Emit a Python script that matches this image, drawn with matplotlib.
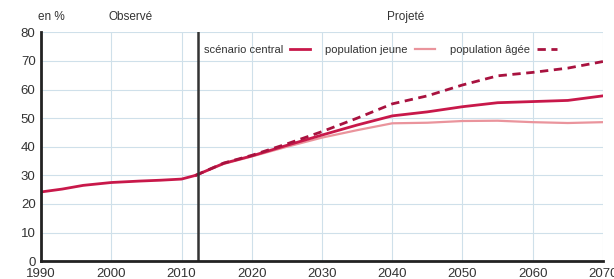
import matplotlib.pyplot as plt
from matplotlib.ticker import MultipleLocator

plt.rcParams['font.family'] = ['Liberation Sans', 'DejaVu Sans']

# observé
annees_obs = [1990, 1993, 1996, 2000, 2004, 2007, 2010, 2012]
valeurs_obs = [24.2, 25.2, 26.5, 27.5, 28.0, 28.3, 28.7, 30.0]

# projeté
annees_proj = [2012, 2016, 2020, 2025, 2030, 2035, 2040, 2045, 2050, 2055, 2060, 2065, 2070]
central = [30.0, 34.2, 36.8, 40.5, 44.1, 47.6, 50.8, 52.2, 54.0, 55.4, 55.8, 56.2, 57.8]
jeune = [30.0, 34.0, 36.6, 40.0, 43.2, 45.8, 48.2, 48.4, 49.0, 49.1, 48.6, 48.3, 48.6]
agee = [30.0, 34.3, 37.0, 41.0, 45.3, 50.0, 55.0, 57.8, 61.6, 64.8, 66.0, 67.5, 69.8]

annee_coupure = 2012.3

fig = plt.figure(figsize=(6.14, 2.79), dpi=100)
ax = fig.add_axes([0.067, 0.064, 0.915, 0.82])

# grille bleu clair
ax.grid(True, color='#cfe0ea', linewidth=0.8)
ax.set_axisbelow(True)

ax.plot(annees_obs, valeurs_obs, color='#c8184a', linewidth=2)
ax.plot(annees_proj, jeune, color='#ea949c', linewidth=1.6, label='population jeune')
ax.plot(annees_proj, central, color='#c8184a', linewidth=2, label='scénario central')
ax.plot(annees_proj, agee, color='#a8123f', linewidth=2, linestyle=(0, (3, 2)), label='population âgée')

# trait de séparation observé / projeté
ax.axvline(annee_coupure, color='#333333', linewidth=1.8)

ax.set_xlim(1990, 2070)
ax.set_ylim(0, 80)
ax.xaxis.set_major_locator(MultipleLocator(10))
ax.yaxis.set_major_locator(MultipleLocator(10))

for s in ['top', 'right']:
    ax.spines[s].set_visible(False)
ax.spines['left'].set_color('#222222')
ax.spines['bottom'].set_color('#222222')
ax.spines['left'].set_linewidth(2)
ax.spines['bottom'].set_linewidth(2)
ax.tick_params(length=0, labelsize=9.5, labelcolor='#333333', pad=4)
ax.tick_params(axis='x', pad=5)

# légende : texte avant le trait
h, l = ax.get_legend_handles_labels()
ordre = [1, 0, 2]
ax.legend([h[i] for i in ordre], [l[i] for i in ordre], ncol=3, loc='upper left',
          bbox_to_anchor=(0.272, 0.99), frameon=False, markerfirst=False,
          fontsize=8, handlelength=1.8, columnspacing=1.4, handletextpad=0.6,
          labelcolor='#333333')

fig.text(0.062, 0.928, 'en %', fontsize=8.5, color='#333333')
fig.text(0.212, 0.928, 'Observé', fontsize=8.5, color='#333333', ha='center')
fig.text(0.66, 0.928, 'Projeté', fontsize=8.5, color='#333333', ha='center')

fig.savefig('out.png', dpi=100)
